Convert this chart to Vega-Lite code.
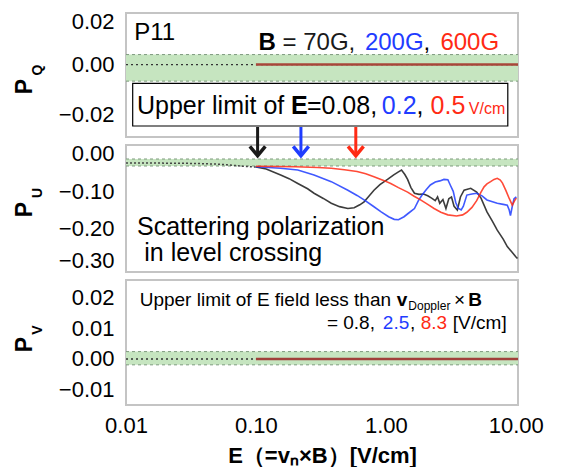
{
  "$schema": "https://vega.github.io/schema/vega-lite/v6.json",
  "padding": {"left": 13, "top": 9, "right": 0, "bottom": 0},
  "spacing": 8,
  "bounds": "flush",
  "config": {
    "font": "Liberation Sans",
    "view": {"stroke": "#c4c4c4", "strokeWidth": 2},
    "axis": {"grid": false, "domain": false, "ticks": false, "labelFont": "Liberation Sans", "labelFontSize": 22, "labelColor": "#000000", "titleColor": "#000000", "labelFlush": false, "labelOverlap": false}
  },
  "datasets": {
    "one": [{}],
    "flat": [{"E": 0.1, "P": 0}, {"E": 10.4, "P": 0}],
    "pu_pre": [
      {"E": 0.01, "P": -0.024}, {"E": 0.015, "P": -0.024}, {"E": 0.02, "P": -0.0245}, {"E": 0.03, "P": -0.025},
      {"E": 0.04, "P": -0.026}, {"E": 0.05, "P": -0.027}, {"E": 0.06, "P": -0.029}, {"E": 0.07, "P": -0.031},
      {"E": 0.08, "P": -0.033}, {"E": 0.09, "P": -0.034}, {"E": 0.1, "P": -0.035}
    ],
    "pu": [
      {"E": 0.1, "P": -0.035, "B": "70G"}, {"E": 0.12, "P": -0.04, "B": "70G"}, {"E": 0.155, "P": -0.056, "B": "70G"},
      {"E": 0.18, "P": -0.066, "B": "70G"}, {"E": 0.21, "P": -0.079, "B": "70G"}, {"E": 0.25, "P": -0.093, "B": "70G"},
      {"E": 0.28, "P": -0.105, "B": "70G"}, {"E": 0.33, "P": -0.119, "B": "70G"}, {"E": 0.38, "P": -0.132, "B": "70G"},
      {"E": 0.44, "P": -0.141, "B": "70G"}, {"E": 0.51, "P": -0.146, "B": "70G"}, {"E": 0.57, "P": -0.144, "B": "70G"},
      {"E": 0.63, "P": -0.136, "B": "70G"}, {"E": 0.68, "P": -0.128, "B": "70G"}, {"E": 0.74, "P": -0.113, "B": "70G"},
      {"E": 0.81, "P": -0.097, "B": "70G"}, {"E": 0.9, "P": -0.082, "B": "70G"}, {"E": 1.03, "P": -0.068, "B": "70G"},
      {"E": 1.15, "P": -0.056, "B": "70G"}, {"E": 1.25, "P": -0.048, "B": "70G"}, {"E": 1.32, "P": -0.043, "B": "70G"},
      {"E": 1.4, "P": -0.055, "B": "70G"}, {"E": 1.47, "P": -0.068, "B": "70G"}, {"E": 1.56, "P": -0.09, "B": "70G"},
      {"E": 1.66, "P": -0.105, "B": "70G"}, {"E": 1.8, "P": -0.108, "B": "70G"}, {"E": 1.95, "P": -0.107, "B": "70G"},
      {"E": 2.1, "P": -0.112, "B": "70G"}, {"E": 2.25, "P": -0.118, "B": "70G"}, {"E": 2.4, "P": -0.125, "B": "70G"},
      {"E": 2.5, "P": -0.115, "B": "70G"}, {"E": 2.6, "P": -0.132, "B": "70G"}, {"E": 2.75, "P": -0.122, "B": "70G"},
      {"E": 2.9, "P": -0.146, "B": "70G"}, {"E": 3.05, "P": -0.12, "B": "70G"}, {"E": 3.2, "P": -0.115, "B": "70G"},
      {"E": 3.35, "P": -0.14, "B": "70G"}, {"E": 3.55, "P": -0.15, "B": "70G"}, {"E": 3.75, "P": -0.115, "B": "70G"},
      {"E": 4.0, "P": -0.097, "B": "70G"}, {"E": 4.5, "P": -0.092, "B": "70G"}, {"E": 5.0, "P": -0.102, "B": "70G"},
      {"E": 5.4, "P": -0.118, "B": "70G"}, {"E": 6.0, "P": -0.155, "B": "70G"}, {"E": 6.6, "P": -0.18, "B": "70G"},
      {"E": 7.2, "P": -0.204, "B": "70G"}, {"E": 8.0, "P": -0.228, "B": "70G"}, {"E": 8.6, "P": -0.248, "B": "70G"},
      {"E": 9.3, "P": -0.262, "B": "70G"}, {"E": 10.0, "P": -0.275, "B": "70G"}, {"E": 10.3, "P": -0.28, "B": "70G"},

      {"E": 0.1, "P": -0.034, "B": "200G"}, {"E": 0.155, "P": -0.038, "B": "200G"}, {"E": 0.21, "P": -0.043, "B": "200G"},
      {"E": 0.28, "P": -0.056, "B": "200G"}, {"E": 0.38, "P": -0.074, "B": "200G"}, {"E": 0.51, "P": -0.097, "B": "200G"},
      {"E": 0.6, "P": -0.111, "B": "200G"}, {"E": 0.68, "P": -0.123, "B": "200G"}, {"E": 0.8, "P": -0.14, "B": "200G"},
      {"E": 0.92, "P": -0.155, "B": "200G"}, {"E": 1.05, "P": -0.168, "B": "200G"}, {"E": 1.16, "P": -0.175, "B": "200G"},
      {"E": 1.25, "P": -0.176, "B": "200G"}, {"E": 1.38, "P": -0.168, "B": "200G"}, {"E": 1.5, "P": -0.158, "B": "200G"},
      {"E": 1.66, "P": -0.146, "B": "200G"}, {"E": 1.78, "P": -0.125, "B": "200G"}, {"E": 1.9, "P": -0.11, "B": "200G"},
      {"E": 2.05, "P": -0.095, "B": "200G"}, {"E": 2.2, "P": -0.083, "B": "200G"}, {"E": 2.4, "P": -0.075, "B": "200G"},
      {"E": 2.6, "P": -0.072, "B": "200G"}, {"E": 2.8, "P": -0.068, "B": "200G"}, {"E": 3.0, "P": -0.069, "B": "200G"},
      {"E": 3.15, "P": -0.085, "B": "200G"}, {"E": 3.3, "P": -0.1, "B": "200G"}, {"E": 3.45, "P": -0.13, "B": "200G"},
      {"E": 3.6, "P": -0.145, "B": "200G"}, {"E": 3.8, "P": -0.15, "B": "200G"}, {"E": 3.95, "P": -0.14, "B": "200G"},
      {"E": 4.2, "P": -0.11, "B": "200G"}, {"E": 4.6, "P": -0.107, "B": "200G"}, {"E": 5.0, "P": -0.105, "B": "200G"},
      {"E": 5.5, "P": -0.112, "B": "200G"}, {"E": 6.0, "P": -0.123, "B": "200G"}, {"E": 7.2, "P": -0.132, "B": "200G"},
      {"E": 8.0, "P": -0.135, "B": "200G"}, {"E": 8.6, "P": -0.137, "B": "200G"}, {"E": 8.9, "P": -0.15, "B": "200G"},
      {"E": 9.1, "P": -0.165, "B": "200G"}, {"E": 9.4, "P": -0.14, "B": "200G"}, {"E": 9.7, "P": -0.12, "B": "200G"},
      {"E": 10.1, "P": -0.115, "B": "200G"},

      {"E": 0.1, "P": -0.033, "B": "600G"}, {"E": 0.2, "P": -0.034, "B": "600G"}, {"E": 0.3, "P": -0.036, "B": "600G"},
      {"E": 0.38, "P": -0.038, "B": "600G"}, {"E": 0.48, "P": -0.042, "B": "600G"}, {"E": 0.6, "P": -0.047, "B": "600G"},
      {"E": 0.7, "P": -0.053, "B": "600G"}, {"E": 0.81, "P": -0.061, "B": "600G"}, {"E": 0.95, "P": -0.07, "B": "600G"},
      {"E": 1.09, "P": -0.079, "B": "600G"}, {"E": 1.25, "P": -0.09, "B": "600G"}, {"E": 1.47, "P": -0.102, "B": "600G"},
      {"E": 1.65, "P": -0.113, "B": "600G"}, {"E": 1.85, "P": -0.123, "B": "600G"}, {"E": 2.1, "P": -0.135, "B": "600G"},
      {"E": 2.35, "P": -0.146, "B": "600G"}, {"E": 2.65, "P": -0.156, "B": "600G"}, {"E": 3.0, "P": -0.163, "B": "600G"},
      {"E": 3.5, "P": -0.166, "B": "600G"}, {"E": 3.9, "P": -0.163, "B": "600G"}, {"E": 4.2, "P": -0.156, "B": "600G"},
      {"E": 4.6, "P": -0.143, "B": "600G"}, {"E": 5.0, "P": -0.125, "B": "600G"}, {"E": 5.4, "P": -0.102, "B": "600G"},
      {"E": 5.7, "P": -0.088, "B": "600G"}, {"E": 6.0, "P": -0.08, "B": "600G"}, {"E": 6.4, "P": -0.074, "B": "600G"},
      {"E": 6.8, "P": -0.068, "B": "600G"}, {"E": 7.2, "P": -0.065, "B": "600G"}, {"E": 7.6, "P": -0.07, "B": "600G"},
      {"E": 7.9, "P": -0.078, "B": "600G"}, {"E": 8.4, "P": -0.098, "B": "600G"}, {"E": 8.9, "P": -0.119, "B": "600G"},
      {"E": 9.4, "P": -0.137, "B": "600G"}, {"E": 9.8, "P": -0.125, "B": "600G"}, {"E": 10.1, "P": -0.118, "B": "600G"}
    ],
    "arrows": [{"E": 0.103, "B": "70G"}, {"E": 0.222, "B": "200G"}, {"E": 0.587, "B": "600G"}],
    "q_box": [{"E": 0.01126, "E2": 8.68, "P": -0.00746, "P2": -0.02451}],
    "q_t24": [
      {"E": 0.011583, "P": 0.00982, "t": "P11", "B": ""},
      {"E": 0.1602, "P": 0.00583, "t": "= 70G,", "B": "70G"},
      {"E": 0.68952, "P": 0.00583, "t": "200G", "B": "200G"},
      {"E": 1.9498, "P": 0.00583, "t": ",", "B": ""},
      {"E": 2.6303, "P": 0.00583, "t": "600G", "B": "600G"}
    ],
    "q_t24b": [{"E": 0.10471, "P": 0.00583, "t": "B", "B": ""}],
    "q_t25": [
      {"E": 0.012153, "P": -0.01972, "t": "Upper limit of", "B": ""},
      {"E": 0.24673, "P": -0.01972, "t": "=0.08,", "B": ""},
      {"E": 0.93163, "P": -0.01972, "t": "0.2", "B": "200G"},
      {"E": 1.7223, "P": -0.01972, "t": ",", "B": ""},
      {"E": 2.207, "P": -0.01972, "t": "0.5", "B": "600G"}
    ],
    "q_t25b": [{"E": 0.18588, "P": -0.01972, "t": "E", "B": ""}],
    "q_t16": [{"E": 4.3494, "P": -0.01972, "t": "V/cm", "B": "600G"}],
    "u_t25": [
      {"E": 0.012153, "P": -0.2169, "t": "Scattering polarization", "B": ""},
      {"E": 0.013822, "P": -0.2866, "t": "in level crossing", "B": ""}
    ],
    "v_t19": [
      {"E": 0.012745, "P": 0.01721, "t": "Upper limit of E field less than", "B": ""},
      {"E": 3.35, "P": 0.01721, "t": "×", "B": ""},
      {"E": 0.35168, "P": 0.00974, "t": "= 0.8,", "B": ""},
      {"E": 0.94824, "P": 0.00974, "t": "2.5", "B": "200G"},
      {"E": 1.5323, "P": 0.00974, "t": ",", "B": ""},
      {"E": 1.8518, "P": 0.00974, "t": "8.3", "B": "600G"},
      {"E": 3.2766, "P": 0.00974, "t": "[V/cm]", "B": ""}
    ],
    "v_t19b": [
      {"E": 1.215, "P": 0.01721, "t": "v", "B": ""},
      {"E": 4.3, "P": 0.01721, "t": "B", "B": ""}
    ],
    "v_t12": [{"E": 1.49, "P": 0.01591, "t": "Doppler", "B": ""}],
    "q_title": [{"E": 0.0016713, "P": -0.00874, "t": "P"}],
    "q_sub": [{"E": 0.0020855, "P": -0.00215, "t": "Q"}],
    "u_title": [{"E": 0.0016713, "P": -0.1486, "t": "P"}],
    "u_sub": [{"E": 0.0020855, "P": -0.1045, "t": "U"}],
    "v_title": [{"E": 0.0016713, "P": 0.00471, "t": "P"}],
    "v_sub": [{"E": 0.0020855, "P": 0.00941, "t": "V"}]
  },
  "vconcat": [
    {
      "width": 392,
      "height": 124,
      "layer": [
        {
          "data": {"name": "one"},
          "mark": {"type": "rect", "color": "#c6e5c0"},
          "encoding": {
            "x": {"datum": 0.01, "type": "quantitative", "scale": {"type": "log", "domain": [0.01, 10.4], "nice": false}, "axis": null},
            "x2": {"datum": 10.4},
            "y": {"datum": 0.004, "type": "quantitative", "scale": {"domain": [-0.0289, 0.0206], "nice": false, "zero": false},
                  "axis": {"values": [-0.02, 0, 0.02], "format": ".2f", "labelPadding": 12, "title": null, "labelOffset": {"condition": {"test": "datum.value > 0.015", "value": 7}, "value": 0}}},
            "y2": {"datum": -0.0066}
          }
        },
        {"data": {"name": "one"}, "mark": {"type": "rule", "color": "#7d9a7d", "strokeDash": [3, 3], "strokeWidth": 1}, "encoding": {"x": {"datum": 0.01, "type": "quantitative", "axis": null}, "x2": {"datum": 10.4}, "y": {"datum": 0.004, "type": "quantitative"}}},
        {"data": {"name": "one"}, "mark": {"type": "rule", "color": "#7d9a7d", "strokeDash": [3, 3], "strokeWidth": 1}, "encoding": {"x": {"datum": 0.01, "type": "quantitative", "axis": null}, "x2": {"datum": 10.4}, "y": {"datum": -0.0066, "type": "quantitative"}}},
        {"data": {"name": "one"}, "mark": {"type": "rule", "color": "#333333", "strokeDash": [2, 3], "strokeWidth": 1.3}, "encoding": {"x": {"datum": 0.01, "type": "quantitative", "axis": null}, "x2": {"datum": 10.4}, "y": {"datum": 0, "type": "quantitative"}}},
        {
          "data": {"name": "flat"},
          "mark": {"type": "line", "color": "#a8463a", "strokeWidth": 2.5},
          "encoding": {
            "x": {"field": "E", "type": "quantitative", "axis": null},
            "y": {"field": "P", "type": "quantitative"}
          }
        },
        {
          "data": {"name": "q_box"},
          "mark": {"type": "rect", "fill": "#ffffff", "stroke": "#000000", "strokeWidth": 1.2},
          "encoding": {
            "x": {"field": "E", "type": "quantitative", "axis": null}, "x2": {"field": "E2"},
            "y": {"field": "P", "type": "quantitative"}, "y2": {"field": "P2"}
          }
        },
        {
          "data": {"name": "q_t24"},
          "mark": {"type": "text", "align": "left", "baseline": "alphabetic", "fontSize": 24},
          "encoding": {
            "x": {"field": "E", "type": "quantitative", "axis": null}, "y": {"field": "P", "type": "quantitative"}, "text": {"field": "t"},
            "color": {"field": "B", "type": "nominal", "scale": {"domain": ["", "70G", "200G", "600G"], "range": ["#000000", "#1a1a1a", "#1f3cff", "#ff2a14"]}, "legend": null}
          }
        },
        {
          "data": {"name": "q_t24b"},
          "mark": {"type": "text", "align": "left", "baseline": "alphabetic", "fontSize": 24, "fontWeight": "bold", "color": "#000000"},
          "encoding": {"x": {"field": "E", "type": "quantitative", "axis": null}, "y": {"field": "P", "type": "quantitative"}, "text": {"field": "t"}}
        },
        {
          "data": {"name": "q_t25"},
          "mark": {"type": "text", "align": "left", "baseline": "alphabetic", "fontSize": 25},
          "encoding": {
            "x": {"field": "E", "type": "quantitative", "axis": null}, "y": {"field": "P", "type": "quantitative"}, "text": {"field": "t"},
            "color": {"field": "B", "type": "nominal", "scale": {"domain": ["", "70G", "200G", "600G"], "range": ["#000000", "#1a1a1a", "#1f3cff", "#ff2a14"]}, "legend": null}
          }
        },
        {
          "data": {"name": "q_t25b"},
          "mark": {"type": "text", "align": "left", "baseline": "alphabetic", "fontSize": 25, "fontWeight": "bold", "color": "#000000"},
          "encoding": {"x": {"field": "E", "type": "quantitative", "axis": null}, "y": {"field": "P", "type": "quantitative"}, "text": {"field": "t"}}
        },
        {
          "data": {"name": "q_t16"},
          "mark": {"type": "text", "align": "left", "baseline": "alphabetic", "fontSize": 16},
          "encoding": {
            "x": {"field": "E", "type": "quantitative", "axis": null}, "y": {"field": "P", "type": "quantitative"}, "text": {"field": "t"},
            "color": {"field": "B", "type": "nominal", "scale": {"domain": ["", "70G", "200G", "600G"], "range": ["#000000", "#1a1a1a", "#1f3cff", "#ff2a14"]}, "legend": null}
          }
        },
        {
          "data": {"name": "q_title"},
          "mark": {"type": "text", "align": "center", "baseline": "middle", "angle": 270, "fontSize": 23, "fontWeight": "bold", "color": "#000000"},
          "encoding": {"x": {"field": "E", "type": "quantitative", "axis": null}, "y": {"field": "P", "type": "quantitative"}, "text": {"field": "t"}}
        },
        {
          "data": {"name": "q_sub"},
          "mark": {"type": "text", "align": "center", "baseline": "middle", "angle": 270, "fontSize": 14, "fontWeight": "bold", "color": "#000000"},
          "encoding": {"x": {"field": "E", "type": "quantitative", "axis": null}, "y": {"field": "P", "type": "quantitative"}, "text": {"field": "t"}}
        }
      ]
    },
    {
      "width": 392,
      "height": 127,
      "layer": [
        {
          "data": {"name": "one"},
          "mark": {"type": "rect", "color": "#c6e5c0"},
          "encoding": {
            "x": {"datum": 0.01, "type": "quantitative", "scale": {"type": "log", "domain": [0.01, 10.4], "nice": false}, "axis": null},
            "x2": {"datum": 10.4},
            "y": {"datum": -0.0134, "type": "quantitative", "scale": {"domain": [-0.316, 0.0241], "nice": false, "zero": false},
                  "axis": {"values": [-0.3, -0.2, -0.1, 0], "format": ".2f", "labelPadding": 12, "title": null, "labelOffset": {"condition": {"test": "datum.value < -0.25", "value": -6}, "value": 0}}},
            "y2": {"datum": -0.0321}
          }
        },
        {"data": {"name": "one"}, "mark": {"type": "rule", "color": "#7d9a7d", "strokeDash": [3, 3], "strokeWidth": 1}, "encoding": {"x": {"datum": 0.01, "type": "quantitative", "axis": null}, "x2": {"datum": 10.4}, "y": {"datum": -0.0134, "type": "quantitative"}}},
        {"data": {"name": "one"}, "mark": {"type": "rule", "color": "#7d9a7d", "strokeDash": [3, 3], "strokeWidth": 1}, "encoding": {"x": {"datum": 0.01, "type": "quantitative", "axis": null}, "x2": {"datum": 10.4}, "y": {"datum": -0.0321, "type": "quantitative"}}},
        {
          "data": {"name": "pu_pre"},
          "mark": {"type": "line", "color": "#444444", "strokeDash": [2, 2], "strokeWidth": 1.5},
          "encoding": {
            "x": {"field": "E", "type": "quantitative", "axis": null},
            "y": {"field": "P", "type": "quantitative"}
          }
        },
        {
          "data": {"name": "pu"},
          "mark": {"type": "line", "strokeWidth": 1.6, "opacity": 0.85},
          "encoding": {
            "x": {"field": "E", "type": "quantitative", "axis": null},
            "y": {"field": "P", "type": "quantitative"},
            "color": {"field": "B", "type": "nominal", "scale": {"domain": ["", "70G", "200G", "600G"], "range": ["#000000", "#1a1a1a", "#1f3cff", "#ff2a14"]}, "legend": null}
          }
        },
        {
          "data": {"name": "arrows"},
          "mark": {"type": "rule", "strokeWidth": 3},
          "encoding": {
            "x": {"field": "E", "type": "quantitative", "axis": null},
            "y": {"datum": 0.0723, "type": "quantitative"}, "y2": {"datum": -0.0054},
            "color": {"field": "B", "type": "nominal", "scale": {"domain": ["", "70G", "200G", "600G"], "range": ["#000000", "#1a1a1a", "#1f3cff", "#ff2a14"]}, "legend": null}
          }
        },
        {
          "data": {"name": "arrows"},
          "mark": {"type": "point", "shape": "M-1,-0.6L0,0.6L1,-0.6", "filled": false, "strokeWidth": 3.5, "size": 240, "opacity": 1},
          "encoding": {
            "x": {"field": "E", "type": "quantitative", "axis": null},
            "y": {"datum": 0.008, "type": "quantitative"},
            "color": {"field": "B", "type": "nominal", "scale": {"domain": ["", "70G", "200G", "600G"], "range": ["#000000", "#1a1a1a", "#1f3cff", "#ff2a14"]}, "legend": null}
          }
        },
        {
          "data": {"name": "u_t25"},
          "mark": {"type": "text", "align": "left", "baseline": "alphabetic", "fontSize": 25, "color": "#000000"},
          "encoding": {"x": {"field": "E", "type": "quantitative", "axis": null}, "y": {"field": "P", "type": "quantitative"}, "text": {"field": "t"}}
        },
        {
          "data": {"name": "u_title"},
          "mark": {"type": "text", "align": "center", "baseline": "middle", "angle": 270, "fontSize": 23, "fontWeight": "bold", "color": "#000000"},
          "encoding": {"x": {"field": "E", "type": "quantitative", "axis": null}, "y": {"field": "P", "type": "quantitative"}, "text": {"field": "t"}}
        },
        {
          "data": {"name": "u_sub"},
          "mark": {"type": "text", "align": "center", "baseline": "middle", "angle": 270, "fontSize": 14, "fontWeight": "bold", "color": "#000000"},
          "encoding": {"x": {"field": "E", "type": "quantitative", "axis": null}, "y": {"field": "P", "type": "quantitative"}, "text": {"field": "t"}}
        }
      ]
    },
    {
      "width": 392,
      "height": 125,
      "layer": [
        {
          "data": {"name": "one"},
          "mark": {"type": "rect", "color": "#c6e5c0"},
          "encoding": {
            "x": {"datum": 0.01, "type": "quantitative", "scale": {"type": "log", "domain": [0.01, 10.4], "nice": false},
                  "axis": {"values": [0.01, 0.1, 1, 10], "format": ".2f", "title": "E（=vₙ×B）[V/cm]", "titleFontSize": 22, "titleFontWeight": "bold", "titleFont": "Liberation Sans", "labelPadding": 10, "titlePadding": 9}},
            "x2": {"datum": 10.4},
            "y": {"datum": 0.0024, "type": "quantitative", "scale": {"domain": [-0.01494, 0.02565], "nice": false, "zero": false},
                  "axis": {"values": [-0.01, 0, 0.01, 0.02], "format": ".2f", "labelPadding": 12, "title": null}},
            "y2": {"datum": -0.0019}
          }
        },
        {"data": {"name": "one"}, "mark": {"type": "rule", "color": "#7d9a7d", "strokeDash": [3, 3], "strokeWidth": 1}, "encoding": {"x": {"datum": 0.01, "type": "quantitative"}, "x2": {"datum": 10.4}, "y": {"datum": 0.0024, "type": "quantitative"}}},
        {"data": {"name": "one"}, "mark": {"type": "rule", "color": "#7d9a7d", "strokeDash": [3, 3], "strokeWidth": 1}, "encoding": {"x": {"datum": 0.01, "type": "quantitative"}, "x2": {"datum": 10.4}, "y": {"datum": -0.0019, "type": "quantitative"}}},
        {"data": {"name": "one"}, "mark": {"type": "rule", "color": "#333333", "strokeDash": [2, 3], "strokeWidth": 1.3}, "encoding": {"x": {"datum": 0.01, "type": "quantitative"}, "x2": {"datum": 10.4}, "y": {"datum": 0, "type": "quantitative"}}},
        {
          "data": {"name": "flat"},
          "mark": {"type": "line", "color": "#a0403a", "strokeWidth": 2.5},
          "encoding": {
            "x": {"field": "E", "type": "quantitative"},
            "y": {"field": "P", "type": "quantitative"}
          }
        },
        {
          "data": {"name": "v_t19"},
          "mark": {"type": "text", "align": "left", "baseline": "alphabetic", "fontSize": 19},
          "encoding": {
            "x": {"field": "E", "type": "quantitative"},
            "y": {"field": "P", "type": "quantitative"}, "text": {"field": "t"},
            "color": {"field": "B", "type": "nominal", "scale": {"domain": ["", "70G", "200G", "600G"], "range": ["#000000", "#1a1a1a", "#1f3cff", "#ff2a14"]}, "legend": null}
          }
        },
        {
          "data": {"name": "v_t19b"},
          "mark": {"type": "text", "align": "left", "baseline": "alphabetic", "fontSize": 19, "fontWeight": "bold", "color": "#000000"},
          "encoding": {"x": {"field": "E", "type": "quantitative"}, "y": {"field": "P", "type": "quantitative"}, "text": {"field": "t"}}
        },
        {
          "data": {"name": "v_t12"},
          "mark": {"type": "text", "align": "left", "baseline": "alphabetic", "fontSize": 12, "color": "#000000"},
          "encoding": {"x": {"field": "E", "type": "quantitative"}, "y": {"field": "P", "type": "quantitative"}, "text": {"field": "t"}}
        },
        {
          "data": {"name": "v_title"},
          "mark": {"type": "text", "align": "center", "baseline": "middle", "angle": 270, "fontSize": 23, "fontWeight": "bold", "color": "#000000"},
          "encoding": {"x": {"field": "E", "type": "quantitative"}, "y": {"field": "P", "type": "quantitative"}, "text": {"field": "t"}}
        },
        {
          "data": {"name": "v_sub"},
          "mark": {"type": "text", "align": "center", "baseline": "middle", "angle": 270, "fontSize": 14, "fontWeight": "bold", "color": "#000000"},
          "encoding": {"x": {"field": "E", "type": "quantitative"}, "y": {"field": "P", "type": "quantitative"}, "text": {"field": "t"}}
        }
      ]
    }
  ]
}
